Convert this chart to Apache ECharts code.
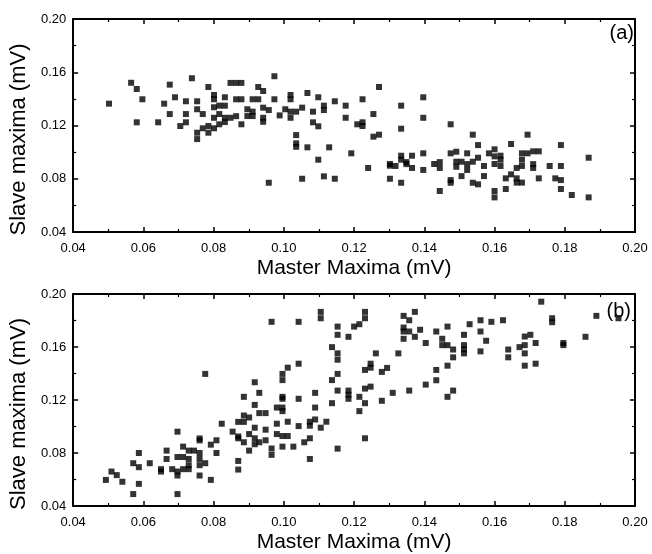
<!DOCTYPE html>
<html>
<head>
<meta charset="utf-8">
<script src="https://cdn.jsdelivr.net/npm/echarts@6/dist/echarts.min.js"></script>
<style>
  html, body { margin: 0; padding: 0; background: #fff; }
  #chart { width: 652px; height: 554px; }
</style>
</head>
<body>
<div id="chart"></div>
<script>
// panel (a): master vs slave maxima
var pointsA = [
  [0.0502,0.1364],[0.0565,0.1521],[0.0581,0.1474],[0.0597,0.1397],[0.0581,0.1224],[0.0642,0.1224],
  [0.0659,0.1364],[0.0675,0.1507],[0.0690,0.1412],[0.0675,0.1286],[0.0705,0.1196],[0.0721,0.1382],
  [0.0721,0.1286],[0.0721,0.1224],[0.0738,0.1555],[0.0753,0.1382],[0.0753,0.1322],[0.0769,0.1286],
  [0.0753,0.1146],[0.0753,0.1098],[0.0769,0.1179],[0.0785,0.1196],[0.0785,0.1146],[0.0785,0.1489],
  [0.0801,0.1429],[0.0801,0.1397],[0.0801,0.1337],[0.0801,0.1258],[0.0801,0.1179],[0.0816,0.1349],
  [0.0832,0.1349],[0.0832,0.1412],[0.0816,0.1286],[0.0816,0.1209],[0.0832,0.1258],[0.0832,0.1226],
  [0.0848,0.1520],[0.0864,0.1520],[0.0879,0.1520],[0.0864,0.1397],[0.0879,0.1397],[0.0848,0.1258],
  [0.0864,0.1270],[0.0879,0.1209],[0.0896,0.1322],[0.0896,0.1271],[0.0911,0.1304],[0.0911,0.1271],
  [0.0911,0.1397],[0.0927,0.1489],[0.0927,0.1397],
  [0.0941,0.1459],[0.0941,0.1334],[0.0941,0.1258],[0.0941,0.1228],[0.0957,0.1316],[0.0957,0.0770],
  [0.0973,0.1570],[0.0973,0.1397],[0.0988,0.1276],[0.1004,0.1322],[0.1019,0.1429],[0.1019,0.1397],
  [0.1019,0.1304],[0.1019,0.1258],[0.1035,0.1304],[0.1035,0.1128],[0.1035,0.1066],[0.1035,0.1040],
  [0.1052,0.1334],[0.1052,0.0800],[0.1067,0.1444],[0.1067,0.1036],[0.1083,0.1304],[0.1083,0.1224],
  [0.1098,0.1412],[0.1098,0.1194],[0.1098,0.0943],[0.1114,0.1349],[0.1114,0.1316],[0.1114,0.0818],
  [0.1129,0.1036],[0.1145,0.1382],[0.1145,0.0800],[0.1176,0.1349],[0.1176,0.1258],[0.1192,0.0991],
  [0.1209,0.1209],[0.1224,0.1224],[0.1224,0.1196],[0.1224,0.1397],[0.1240,0.0881],[0.1255,0.1286],
  [0.1255,0.1116],[0.1271,0.1489],[0.1271,0.1131],[0.1302,0.0911],[0.1302,0.0898],[0.1302,0.0800],
  [0.1318,0.0896],[0.1334,0.1349],[0.1334,0.1176],[0.1334,0.0973],[0.1334,0.0943],[0.1334,0.0770],
  [0.1349,0.0925],[0.1349,0.0910],[0.1365,0.0973],[0.1365,0.0881],[0.1397,0.1412],[0.1397,0.1258],
  [0.1397,0.0991],[0.1397,0.0866],[0.1428,0.0911],[0.1444,0.0925],[0.1444,0.0881],[0.1444,0.0708],
  [0.1475,0.1209],[0.1475,0.0991],[0.1475,0.0790],[0.1475,0.0770],[0.1491,0.1003],[0.1491,0.0928],
  [0.1491,0.0890],[0.1506,0.0928],[0.1506,0.0820],[0.1522,0.0991],[0.1522,0.0910],[0.1522,0.0866],
  [0.1538,0.1131],[0.1538,0.0928],[0.1538,0.0770],[0.1553,0.1053],[0.1553,0.0958],[0.1553,0.0758],
  [0.1570,0.0896],[0.1570,0.0820],[0.1584,0.0991],[0.1600,0.1021],[0.1600,0.0968],[0.1600,0.0911],
  [0.1600,0.0708],[0.1600,0.0660],[0.1617,0.0973],[0.1617,0.0943],[0.1617,0.0896],[0.1632,0.0803],
  [0.1632,0.0723],[0.1647,0.1061],[0.1647,0.0833],[0.1663,0.0881],[0.1663,0.0803],[0.1663,0.0771],
  [0.1678,0.0991],[0.1678,0.0943],[0.1678,0.0896],[0.1678,0.0771],[0.1694,0.1131],[0.1694,0.0991],
  [0.1710,0.1006],[0.1710,0.0910],[0.1710,0.0881],[0.1726,0.1006],[0.1726,0.0803],[0.1757,0.0896],
  [0.1773,0.0803],[0.1789,0.1053],[0.1789,0.0896],[0.1789,0.0790],[0.1789,0.0723],[0.1820,0.0678],
  [0.1868,0.0958],[0.1868,0.0660]
];

// panel (b)
var pointsB = [
  [0.0493,0.0597],[0.0509,0.0660],[0.0524,0.0633],[0.0540,0.0583],[0.0571,0.0723],[0.0571,0.0490],
  [0.0587,0.0800],[0.0587,0.0693],[0.0587,0.0567],[0.0618,0.0723],[0.0650,0.0678],[0.0650,0.0660],
  [0.0666,0.0818],[0.0666,0.0755],[0.0682,0.0678],[0.0697,0.0961],[0.0697,0.0770],[0.0697,0.0660],
  [0.0697,0.0630],[0.0697,0.0490],[0.0713,0.0848],[0.0713,0.0770],[0.0713,0.0678],[0.0729,0.0818],
  [0.0729,0.0755],[0.0729,0.0708],[0.0729,0.0678],[0.0744,0.0818],[0.0760,0.0910],[0.0760,0.0895],
  [0.0760,0.0800],[0.0760,0.0755],[0.0760,0.0708],[0.0760,0.0630],[0.0776,0.1397],[0.0776,0.0723],
  [0.0792,0.0863],[0.0792,0.0597],[0.0808,0.0896],[0.0808,0.0800],[0.0823,0.1021],[0.0854,0.0961],
  [0.0870,0.1035],[0.0870,0.0925],[0.0870,0.0911],[0.0870,0.0740],[0.0870,0.0675],[0.0886,0.1224],
  [0.0886,0.1083],[0.0886,0.1035],[0.0886,0.0881],[0.0901,0.1068],[0.0901,0.0943],[0.0901,0.0818],
  [0.0917,0.1334],[0.0917,0.1163],[0.0917,0.0991],[0.0917,0.0911],[0.0917,0.0866],[0.0930,0.1254],
  [0.0930,0.1101],[0.0930,0.0881],
  [0.0948,0.1101],[0.0948,0.0976],[0.0948,0.0896],[0.0965,0.0834],[0.0965,0.0786],[0.0965,0.1790],
  [0.0980,0.1021],[0.0980,0.0943],[0.0980,0.1143],[0.0996,0.1397],[0.0996,0.1350],[0.0996,0.1224],
  [0.0996,0.1209],[0.0996,0.1143],[0.0996,0.1116],[0.0996,0.0928],[0.0996,0.0848],[0.1011,0.1444],
  [0.1011,0.1036],[0.1011,0.0928],[0.1027,0.0848],[0.1042,0.1474],[0.1042,0.1790],[0.1042,0.1209],
  [0.1042,0.1003],[0.1058,0.0881],[0.1074,0.1036],[0.1074,0.1006],[0.1074,0.0911],[0.1074,0.0755],
  [0.1089,0.1254],[0.1089,0.1143],[0.1089,0.1053],[0.1105,0.1865],[0.1105,0.1817],[0.1105,0.0991],
  [0.1121,0.1036],[0.1137,0.1599],[0.1137,0.1350],[0.1137,0.1176],[0.1153,0.1754],[0.1153,0.1692],
  [0.1153,0.1552],[0.1153,0.1504],[0.1153,0.1397],[0.1153,0.1271],[0.1153,0.0833],[0.1184,0.1677],
  [0.1184,0.1271],[0.1184,0.1240],[0.1184,0.1209],[0.1200,0.1754],[0.1215,0.1772],[0.1215,0.1224],
  [0.1215,0.1116],[0.1231,0.1865],[0.1231,0.1817],[0.1231,0.1427],[0.1231,0.1286],[0.1231,0.1176],
  [0.1231,0.0911],[0.1247,0.1474],[0.1247,0.1444],[0.1247,0.1301],[0.1262,0.1552],[0.1279,0.1412],
  [0.1279,0.1194],[0.1294,0.1442],[0.1310,0.1254],[0.1326,0.1552],[0.1341,0.1835],[0.1341,0.1747],
  [0.1341,0.1717],[0.1341,0.1662],[0.1357,0.1802],[0.1357,0.1717],[0.1357,0.1271],[0.1373,0.1865],
  [0.1373,0.1677],[0.1388,0.1730],[0.1404,0.1630],[0.1404,0.1316],[0.1434,0.1717],[0.1434,0.1427],
  [0.1434,0.1349],[0.1451,0.1662],[0.1451,0.1614],[0.1466,0.1614],[0.1466,0.1754],[0.1466,0.1459],
  [0.1466,0.1224],
  [0.1482,0.1581],[0.1482,0.1522],[0.1482,0.1271],[0.1513,0.1692],[0.1513,0.1614],[0.1513,0.1583],
  [0.1513,0.1552],[0.1529,0.1772],[0.1560,0.1802],[0.1560,0.1717],[0.1560,0.1567],[0.1576,0.1647],
  [0.1591,0.1790],[0.1624,0.1802],[0.1639,0.1581],[0.1639,0.1522],[0.1671,0.1599],[0.1686,0.1679],
  [0.1686,0.1614],[0.1686,0.1552],[0.1686,0.1459],[0.1702,0.1692],[0.1717,0.1630],[0.1717,0.1474],
  [0.1733,0.1942],[0.1764,0.1817],[0.1764,0.1787],[0.1796,0.1630],[0.1796,0.1614],[0.1859,0.1677],
  [0.1890,0.1835],[0.1953,0.1817]
];

var panelLabels = ['(a)', '(b)'];
var xTitle = 'Master Maxima (mV)';
var yTitle = 'Slave maxima (mV)';

var font = 'Liberation Sans, Arial, sans-serif';
var axisLine = { show: true, lineStyle: { color: '#000', width: 2 } };
var majorTick = { inside: true, length: 5, lineStyle: { color: '#000', width: 1.5 } };
var minorTick = { show: true, splitNumber: 2, length: 3, lineStyle: { color: '#000', width: 1.2 } };

function xAxes(grid) {
  return [
    {
      type: 'value', gridIndex: grid, min: 0.04, max: 0.20, interval: 0.02,
      position: 'bottom',
      axisLine: axisLine, axisTick: majorTick, minorTick: minorTick,
      splitLine: { show: false },
      axisLabel: { color: '#000', fontSize: 13, fontFamily: font, margin: 10,
        formatter: function (v) { return v.toFixed(2); } },
      name: xTitle, nameLocation: 'middle', nameGap: 26,
      nameTextStyle: { color: '#000', fontSize: 21, fontFamily: font }
    },
    {
      type: 'value', gridIndex: grid, min: 0.04, max: 0.20, interval: 0.02,
      position: 'top',
      axisLine: axisLine, axisTick: majorTick, minorTick: minorTick,
      splitLine: { show: false },
      axisLabel: { show: false }
    }
  ];
}

function yAxes(grid) {
  return [
    {
      type: 'value', gridIndex: grid, min: 0.04, max: 0.20, interval: 0.04,
      position: 'left',
      axisLine: axisLine, axisTick: majorTick, minorTick: minorTick,
      splitLine: { show: false },
      axisLabel: { color: '#000', fontSize: 13, fontFamily: font, margin: 7,
        formatter: function (v) { return v.toFixed(2); } },
      // the title sits a little below the middle of the axis
      name: yTitle, nameLocation: 'middle', nameGap: 43,
      nameTextStyle: { color: '#000', fontSize: 22, fontFamily: font, padding: [0, 28, 0, 0] }
    },
    {
      type: 'value', gridIndex: grid, min: 0.04, max: 0.20, interval: 0.04,
      position: 'right',
      axisLine: axisLine, axisTick: majorTick, minorTick: minorTick,
      splitLine: { show: false },
      axisLabel: { show: false }
    }
  ];
}

var chart = echarts.init(document.getElementById('chart'), null, { renderer: 'canvas' });

var option = {
  backgroundColor: '#fff',
  animation: false,
  grid: [
    { left: 71, top: 19, width: 564, height: 213 },
    { left: 71, top: 294, width: 564, height: 213 }
  ],
  xAxis: xAxes(0).concat(xAxes(1)),
  yAxis: yAxes(0).concat(yAxes(1)),
  series: [
    {
      type: 'scatter', xAxisIndex: 0, yAxisIndex: 0,
      symbol: 'rect', symbolSize: 6,
      itemStyle: { color: '#000' },
      data: pointsA
    },
    {
      type: 'scatter', xAxisIndex: 2, yAxisIndex: 2,
      symbol: 'rect', symbolSize: 6,
      itemStyle: { color: '#000' },
      data: pointsB
    }
  ],
  graphic: [
    { type: 'text', right: 18, top: 23,
      style: { text: panelLabels[0], font: '20px ' + font, fill: '#000' } },
    { type: 'text', right: 21, top: 301,
      style: { text: panelLabels[1], font: '20px ' + font, fill: '#000' } }
  ]
};

chart.setOption(option);
</script>
</body>
</html>
